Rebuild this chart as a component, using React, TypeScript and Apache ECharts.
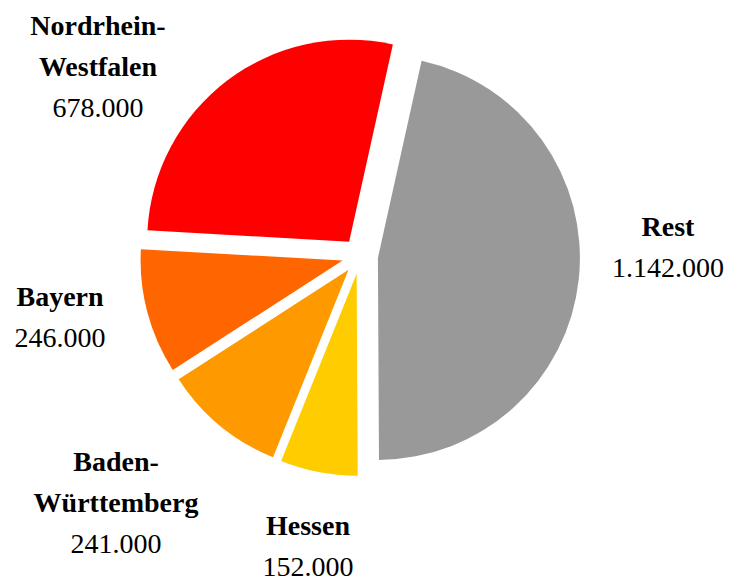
import React, { useEffect, useRef } from "react";
import * as echarts from "echarts";

const categories = ["Nordrhein-\nWestfalen", "Bayern", "Baden-\nWürttemberg", "Hessen", "Rest"];
const values = [678000, 246000, 241000, 152000, 1142000];
const colors = ["#FF0000", "#FF6600", "#FF9900", "#FFCC00", "#999999"];
// label block centres (layout only)
const labelPos: [number, number][] = [
  [98, 66],
  [60, 317],
  [116, 502],
  [308, 546],
  [668, 247],
];
const LINE_GAP = 41;

const fmt = (v: number) => v.toString().replace(/\B(?=(\d{3})+(?!\d))/g, ".");

export default function App() {
  const ref = useRef<HTMLDivElement>(null);
  useEffect(() => {
    if (!ref.current) return;
    const chart = echarts.init(ref.current, undefined, { renderer: "svg" });
    const font = '"Liberation Serif", "Times New Roman", serif';
    const graphics: any[] = [];
    categories.forEach((c, i) => {
      const lines = c.split("\n").map((t) => ({ t, bold: true }));
      lines.push({ t: fmt(values[i]), bold: false });
      const n = lines.length;
      lines.forEach((ln, k) => {
        graphics.push({
          type: "text",
          x: labelPos[i][0],
          y: labelPos[i][1] + (k - (n - 1) / 2) * LINE_GAP,
          silent: true,
          style: {
            text: ln.t,
            align: "center",
            verticalAlign: "middle",
            fill: "#000",
            fontFamily: font,
            fontSize: 28,
            fontWeight: ln.bold ? "bold" : "normal",
            lineHeight: 28,
          },
        });
      });
    });
    chart.setOption({
      animation: false,
      backgroundColor: "#ffffff",
      graphic: graphics,
      series: [
        {
          type: "pie",
          center: [360, 256],
          radius: [0, 202],
          startAngle: 77.5,
          clockwise: false,
          selectedMode: "multiple",
          selectedOffset: 18,
          silent: true,
          emphasis: { disabled: true },
          itemStyle: { borderWidth: 0 },
          label: { show: false },
          labelLine: { show: false },
          data: categories.map((c, i) => ({
            name: c,
            value: values[i],
            selected: true,
            itemStyle: { color: colors[i] },
            select: { itemStyle: { color: colors[i], borderWidth: 0 } },
          })),
        },
      ],
    });
    return () => chart.dispose();
  }, []);
  return (
    <div
      ref={ref}
      style={{ position: "absolute", left: 0, top: 0, width: 729, height: 581 }}
    />
  );
}
